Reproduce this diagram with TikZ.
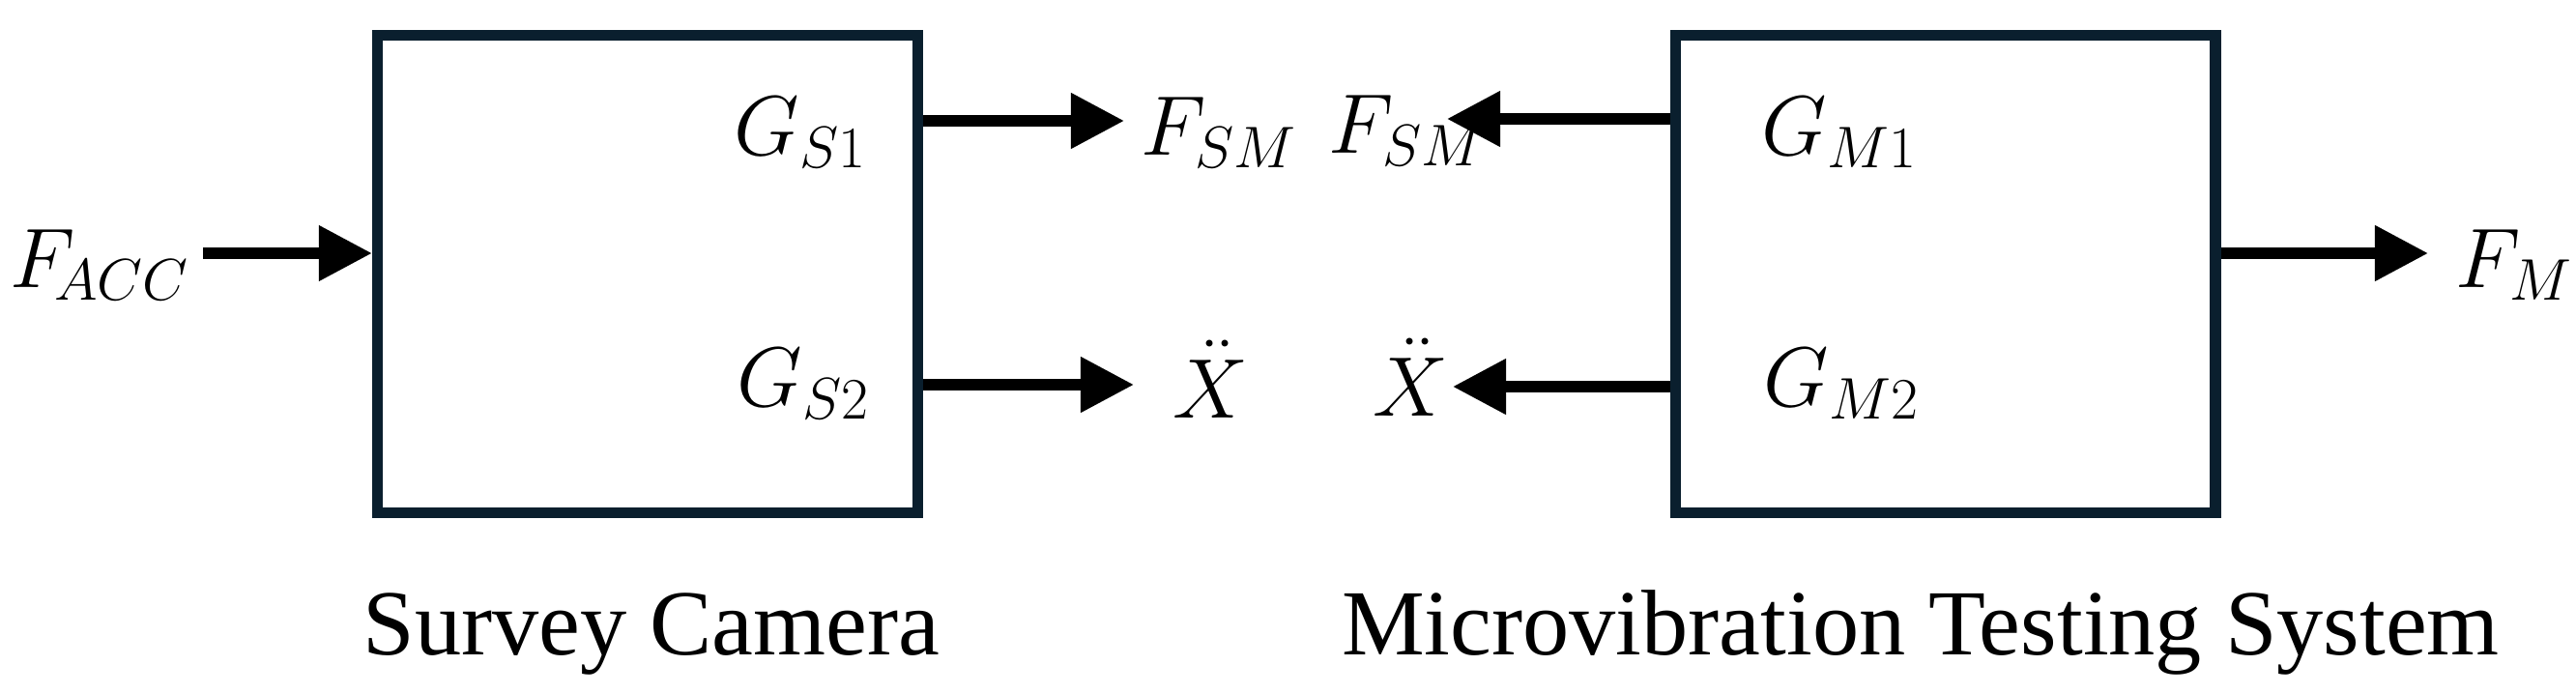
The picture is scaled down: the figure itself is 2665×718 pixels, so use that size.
\documentclass[tikz,border=0pt]{standalone}
\usepackage[no-math]{fontspec}
\setmainfont{Liberation Serif}
\usetikzlibrary{arrows.meta}
\definecolor{boxline}{HTML}{0A1F2E}
\tikzset{
    > = {Triangle[length=5.5mm, width=5.5mm]},
    flow/.style = {->, line width=1.1mm},
    block/.style = {draw=boxline, line width=1.15mm, minimum width=5.585cm,
        minimum height=4.94cm, inner sep=0pt},
    sym/.style = {anchor=base west, inner sep=0pt, font=\fontsize{26.7}{32}\selectfont},
    caption/.style = {anchor=base, inner sep=0pt, font=\fontsize{27.4}{33}\selectfont}
}

\begin{document}
\begin{tikzpicture}[x=0.01cm, y=-0.01cm]
    \useasboundingbox (0,0) rectangle (2665,718);

    \node[block] (sc) at (670, 283.5) {};
    \node[block] (mts) at (2012.75, 283.5) {};

    \node[sym] (facc) at (10, 297) {$F_{\!ACC}$};
    \node[sym] (gs1) at (759, 160) {$G_{S1}$};
    \node[sym] (gs2) at (762, 420) {$G_{S2}$};
    \node[sym] (fsm1) at (1180, 160) {$F_{SM}$};
    \node[sym] (xdd1) at (1213, 432) {$\ddot{X}$};

    \node[sym] (fsm2) at (1374, 158) {$F_{SM}$};
    \node[sym] (xdd2) at (1420, 430) {$\ddot{X}$};
    \node[sym] (gm1) at (1822, 160) {$G_{M1}$};
    \node[sym] (gm2) at (1824, 420) {$G_{M2}$};
    \node[sym] (fm) at (2540, 297) {$F_M$};

    \node[caption] (sclabel) at (674, 677) {Survey Camera};
    \node[caption] (mtslabel) at (1987, 677) {Microvibration Testing System};

    \coordinate (acc-in) at (210, 262);
    \coordinate (sm1-tip) at (1163, 125);
    \coordinate (x1-tip) at (1173, 398);
    \coordinate (sm2-tip) at (1497, 123);
    \coordinate (x2-tip) at (1503, 400);
    \coordinate (m-tip) at (2512, 262);

    \draw[flow] (acc-in) -- (acc-in -| sc.west);
    \draw[flow] (sm1-tip -| sc.east) -- (sm1-tip);
    \draw[flow] (x1-tip -| sc.east) -- (x1-tip);
    \draw[flow] (sm2-tip -| mts.west) -- (sm2-tip);
    \draw[flow] (x2-tip -| mts.west) -- (x2-tip);
    \draw[flow] (m-tip -| mts.east) -- (m-tip);
\end{tikzpicture}
\end{document}
